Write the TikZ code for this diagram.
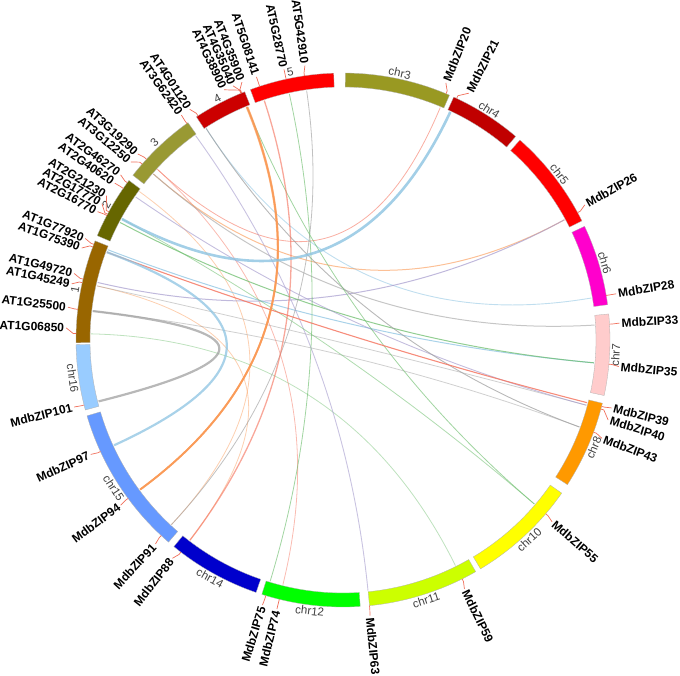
\documentclass[tikz,border=0pt]{standalone}
\usepackage{fontspec}
\setmainfont{Liberation Sans}
\usepackage{tikz}
\usetikzlibrary{calc}

% chromosome colours
\definecolor{cchr3}{RGB}{153,153,34}
\definecolor{cchr4}{RGB}{192,0,0}
\definecolor{cchr5}{RGB}{255,0,0}
\definecolor{cchr6}{RGB}{255,0,204}
\definecolor{cchr7}{RGB}{255,204,204}
\definecolor{cchr8}{RGB}{255,153,0}
\definecolor{cchr10}{RGB}{255,255,0}
\definecolor{cchr11}{RGB}{204,255,0}
\definecolor{cchr12}{RGB}{0,255,0}
\definecolor{cchr14}{RGB}{0,0,204}
\definecolor{cchr15}{RGB}{102,153,255}
\definecolor{cchr16}{RGB}{153,204,255}
\definecolor{cat1}{RGB}{153,102,0}
\definecolor{cat2}{RGB}{102,102,0}
\definecolor{cat3}{RGB}{153,153,51}
\definecolor{cat4}{RGB}{204,0,0}
\definecolor{cat5}{RGB}{255,0,0}
% link colours
\definecolor{lkblue}{RGB}{140,195,225}
\definecolor{lkorange}{RGB}{250,150,80}
\definecolor{lkgreen}{RGB}{110,190,110}
\definecolor{lkgray}{RGB}{160,160,160}
\definecolor{lkpurple}{RGB}{165,155,205}
\definecolor{lksalmon}{RGB}{245,120,100}
\definecolor{tickred}{RGB}{240,110,90}

\begin{document}
\begin{tikzpicture}[
    chrom/.style={draw=black!30, line width=0.3pt},
    genetick/.style={draw=tickred, line width=0.7pt},
    genelab/.style={font=\bfseries\fontsize{12}{13}\selectfont, inner sep=0pt},
    chrlab/.style={font=\fontsize{11.5}{12}\selectfont, text=black!75, inner sep=1pt},
    link/.style={line width=0.9pt},
  ]
\useasboundingbox (-343pt,-335pt) rectangle (337pt,340pt);
\coordinate (O) at (0,0);

% ideogram
\foreach \s/\e/\col/\nm/\txt in {
    89.5/66.5/cchr3/chr3/chr3, 65.5/49.7/cchr4/chr4/chr4, 48.5/26.5/cchr5/chr5/chr5,
    25.2/7.6/cchr6/chr6/chr6, 5.6/-12/cchr7/chr7/chr7, -13.7/-32.8/cchr8/chr8/chr8,
    -35/-59/cchr10/chr10/chr10, -60.2/-84.3/cchr11/chr11/chr11, -86.3/-107.7/cchr12/chr12/chr12,
    -109/-129.3/cchr14/chr14/chr14, -130.8/-163.5/cchr15/chr15/chr15, -164.8/-179/cchr16/chr16/chr16,
    180.6/158.2/cat1/at1/1, 157/143.3/cat2/at2/2, 141.9/125.5/cat3/at3/3,
    123.3/111.6/cat4/at4/4, 110.3/92/cat5/at5/5}
{
  \filldraw[chrom, fill=\col] (\s:253pt) arc[start angle=\s, end angle=\e, radius=253pt]
    -- (\e:267pt) arc[start angle=\e, end angle=\s, radius=267pt] -- cycle;
  \pgfmathsetmacro\m{(\s+\e)/2}
  \pgfmathtruncatemacro\up{sin(\m)>=0}
  \ifnum\up=1
    \node[chrlab, anchor=south, rotate=\m-90] (\nm) at (\m:267.5pt) {\txt};
  \else
    \node[chrlab, anchor=north, rotate=\m+90] (\nm) at (\m:267.5pt) {\txt};
  \fi
}

% genes, right half
\foreach \p/\l/\g in {
    67.3/68.2/MdbZIP20, 64.8/63/MdbZIP21, 28.5/29.2/MdbZIP26, 9.6/9.6/MdbZIP28,
    3.4/3.5/MdbZIP33, -5.2/-5.5/MdbZIP35, -14.4/-14.2/MdbZIP39, -15/-16.8/MdbZIP40,
    -20.2/-20.8/MdbZIP43, -40.6/-41/MdbZIP55, -63.5/-64/MdbZIP59, -84.3/-84.4/MdbZIP63}
{
  \coordinate (\g) at (\p:252pt);
  \draw[genetick] (\p:267pt) -- (\p:270pt) -- (\l:277pt);
  \node[genelab, anchor=west, rotate=\l] (l-\g) at (\l:279pt) {\g};
}

% genes, left half
\foreach \p/\l/\g in {
    -106.8/-106.9/MdbZIP75, -103.8/-103.8/MdbZIP74, -127.4/-128/MdbZIP88, -132.9/-132.6/MdbZIP91,
    -143.6/-143.4/MdbZIP94, -155.3/-155.6/MdbZIP97, -165.9/-166/MdbZIP101,
    178.6/177.5/AT1G06850, 173.4/173.2/AT1G25500, 167.6/168.3/AT1G45249, 166.8/166.1/AT1G49720,
    159.6/160.6/AT1G75390, 159/158.5/AT1G77920,
    152.2/152.4/AT2G16770, 151.9/150.5/AT2G17770, 151.3/148.6/AT2G21230,
    145.4/145.5/AT2G40620, 143.9/143.4/AT2G46270,
    138.8/140/AT3G12250, 137.4/137.8/AT3G19290, 125.8/125.7/AT3G62420,
    122.9/123.6/AT4G01120, 112.3/115.4/AT4G38900, 112.4/113.4/AT4G35040, 112.5/111.4/AT4G35900,
    108.2/108.2/AT5G08141, 102.3/102.3/AT5G28770, 98.3/97.9/AT5G42910}
{
  \coordinate (\g) at (\p:252pt);
  \draw[genetick] (\p:267pt) -- (\p:270pt) -- (\l:277pt);
  \node[genelab, anchor=east, rotate=\l+180] (l-\g) at (\l:279pt) {\g};
}

% links: quadratic curves through the centre
\foreach \a/\b/\c/\w/\o in {
    AT1G06850/MdbZIP59/lkgreen/0.8/0.45, AT2G46270/MdbZIP91/lkorange/0.8/0.45,
    AT1G45249/MdbZIP88/lkorange/0.8/0.45, AT1G25500/MdbZIP43/lkgray/0.8/0.5,
    AT1G45249/MdbZIP40/lkgray/0.8/0.5, AT3G19290/MdbZIP74/lksalmon/0.8/0.5,
    AT4G01120/MdbZIP28/lkblue/0.9/0.55, AT3G19290/MdbZIP20/lksalmon/0.8/0.6,
    AT3G12250/MdbZIP26/lkorange/1/0.6, AT1G49720/MdbZIP26/lkpurple/1/0.7,
    AT3G12250/MdbZIP33/lkgray/1/0.6, AT1G77920/MdbZIP35/lkblue/1/0.75,
    AT2G16770/MdbZIP35/lkgreen/1/0.75, AT2G40620/MdbZIP40/lkpurple/0.9/0.65,
    AT4G01120/MdbZIP43/lkgray/0.9/0.75, AT3G62420/MdbZIP63/lkpurple/0.9/0.6,
    AT5G28770/MdbZIP75/lkgreen/0.8/0.65, AT5G42910/MdbZIP91/lkgray/0.8/0.65,
    AT4G35040/MdbZIP55/lkgreen/0.8/0.65, AT2G21230/MdbZIP55/lkgreen/0.8/0.55,
    AT1G75390/MdbZIP39/lksalmon/1.1/0.85, AT5G08141/MdbZIP88/lksalmon/1.3/0.65,
    AT4G38900/MdbZIP94/lkorange/1.8/0.7, AT4G35040/MdbZIP94/lkorange/1.8/0.6,
    AT4G35900/MdbZIP94/lkorange/1.8/0.6, AT1G75390/MdbZIP97/lkblue/2.2/0.75,
    AT1G25500/MdbZIP101/lkgray/2.2/0.75, AT2G21230/MdbZIP21/lkblue/2.6/0.8}
{
  \draw[link, draw=\c, line width=\w pt, draw opacity=\o]
    (\a) .. controls ($(\a)!0.667!(O)$) and ($(\b)!0.667!(O)$) .. (\b);
}
\end{tikzpicture}
\end{document}
